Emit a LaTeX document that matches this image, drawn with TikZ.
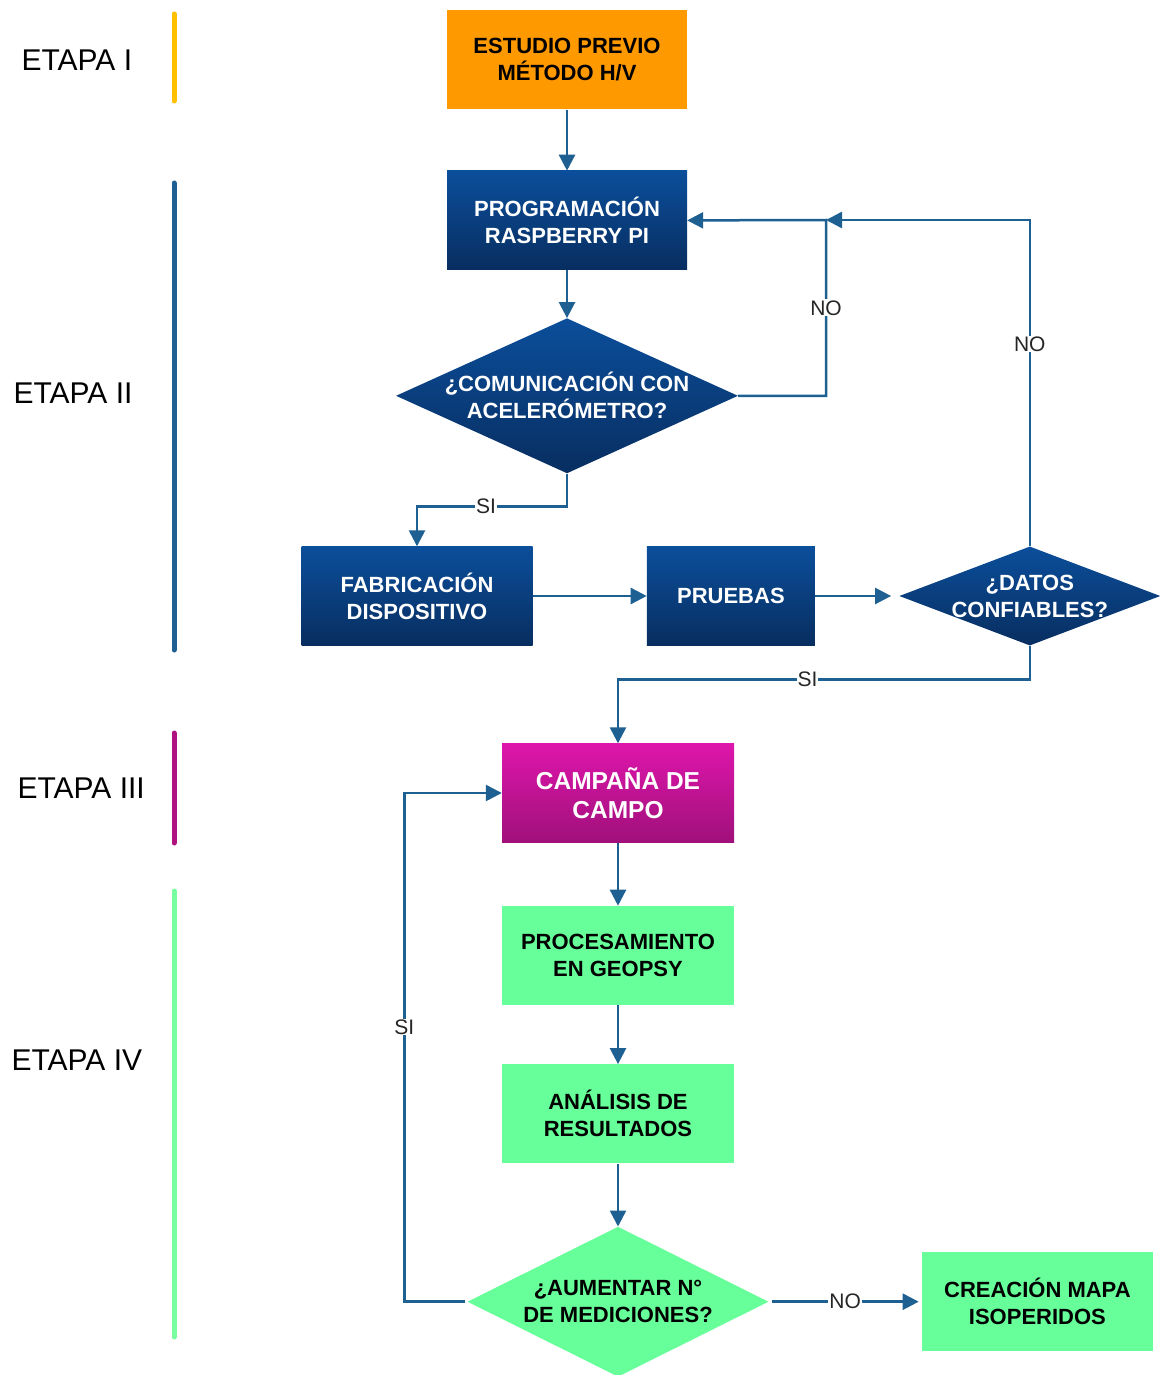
\documentclass[tikz,border=0pt]{standalone}
\usepackage{fontspec}
\setmainfont{Liberation Sans}
\usetikzlibrary{
	arrows.meta,
	shapes.geometric,
	positioning
}
\definecolor{flecha}{RGB}{31,96,146}
\definecolor{naranja}{RGB}{255,153,0}
\definecolor{azulsup}{RGB}{11,78,155}
\definecolor{azulinf}{RGB}{8,46,96}
\definecolor{magsup}{RGB}{222,22,172}
\definecolor{maginf}{RGB}{160,16,122}
\definecolor{verde}{RGB}{102,255,153}
\definecolor{amarillo}{RGB}{255,192,0}
\definecolor{morado}{RGB}{176,18,128}
\definecolor{verdebarra}{RGB}{120,255,160}
\tikzset{
	caja/.style={
		rectangle,
		minimum height=99pt,
		inner sep=0pt,
		align=center,
		font=\fontsize{22}{27}\selectfont\bfseries
	},
	azul/.style={
		top color=azulsup,
		bottom color=azulinf,
		text=white
	},
	decision/.style={
		diamond,
		inner sep=0pt
	},
	textodec/.style={
		align=center,
		font=\fontsize{22}{27}\selectfont\bfseries
	},
	conector/.style={
		draw=flecha,
		line width=2.5pt,
		-{Triangle[length=16pt,width=16pt]}
	},
	etiqueta/.style={
		fill=white,
		inner sep=1pt,
		text=black!85,
		font=\fontsize{21}{21}\selectfont
	},
	etapa/.style={
		anchor=west,
		font=\fontsize{30}{30}\selectfont
	},
	barra/.style={
		line width=5pt,
		line cap=round
	}
}

\begin{document}
\begin{tikzpicture}[x=1pt,y=-1pt]
	\useasboundingbox (0,0) rectangle (1159,1375);

	% etapas
	\node [etapa] (etapa1) at (18,60)   {ETAPA I};
	\node [etapa] (etapa2) at (10,393)  {ETAPA II};
	\node [etapa] (etapa3) at (14,788)  {ETAPA III};
	\node [etapa] (etapa4) at (8,1060)  {ETAPA IV};
	\draw [barra,amarillo]   (174,14)  -- (174,101);
	\draw [barra,flecha]     (174,183) -- (174,650);
	\draw [barra,morado]     (174,733) -- (174,843);
	\draw [barra,verdebarra] (174,891) -- (174,1337);

	% diagrama
	\draw
		node [caja,fill=naranja,minimum width=240pt] (estudio) at (567,60) {ESTUDIO PREVIO\\MÉTODO H/V}
		node [caja,azul,minimum width=240pt,below=61pt of estudio] (prog) {PROGRAMACIÓN\\RASPBERRY PI}
		node [decision,azul,minimum width=342pt,minimum height=155pt,below=48pt of prog,
			label={[textodec,text=white]center:¿COMUNICACIÓN CON\\ACELERÓMETRO?}] (comunic) {}
		node [caja,azul,minimum width=231pt] (fab) at (417,596) {FABRICACIÓN\\DISPOSITIVO}
		node [caja,azul,minimum width=168pt,right=114pt of fab] (pruebas) {PRUEBAS}
		node [decision,azul,minimum width=261pt,minimum height=99pt,right=84pt of pruebas,
			label={[textodec,text=white]center:¿DATOS\\CONFIABLES?}] (datos) {}
		node [caja,top color=magsup,bottom color=maginf,text=white,minimum width=232pt,
			font=\fontsize{24.5}{29}\selectfont\bfseries] (campana) at (618,793) {CAMPAÑA DE\\CAMPO}
		node [caja,fill=verde,minimum width=232pt,below=63pt of campana] (proc) {PROCESAMIENTO\\EN GEOPSY}
		node [caja,fill=verde,minimum width=232pt,below=59pt of proc] (analisis) {ANÁLISIS DE\\RESULTADOS}
		node [decision,fill=verde,minimum width=301pt,minimum height=150pt,below=63pt of analisis,
			label={[textodec]center:¿AUMENTAR N°\\DE MEDICIONES?}] (aumentar) {}
		node [caja,fill=verde,minimum width=231pt,right=153pt of aumentar] (creacion) {CREACIÓN MAPA\\ISOPERIDOS}
	;
	\coordinate (junta) at (826,220);

	% conectores
	\draw [conector] (estudio) -- (prog);
	\draw [conector] (prog) -- (comunic);
	\draw [conector] (comunic.east) -| node [etiqueta,pos=0.75] {NO} (junta) -- (prog.east);
	\draw [conector] (datos.north) |- node [etiqueta,pos=0.31] {NO} (junta);
	\draw [conector] (comunic.south) -- ++(0,33) -| node [etiqueta,pos=0.27] {SI} (fab.north);
	\draw [conector] (fab) -- (pruebas);
	\draw [conector,shorten >=8pt] (pruebas) -- (datos);
	\draw [conector] (datos.south) -- ++(0,34) -| node [etiqueta,pos=0.27] {SI} (campana.north);
	\draw [conector] (campana) -- (proc);
	\draw [conector] (proc) -- (analisis);
	\draw [conector] (analisis) -- (aumentar);
	\draw [conector,shorten <=2pt] (aumentar.west) -- ++(-63,0) |- node [etiqueta,pos=0.27] {SI} (campana.west);
	\draw [conector,shorten <=3pt,shorten >=3pt] (aumentar.east) -- node [etiqueta] {NO} (creacion.west);
\end{tikzpicture}
\end{document}
